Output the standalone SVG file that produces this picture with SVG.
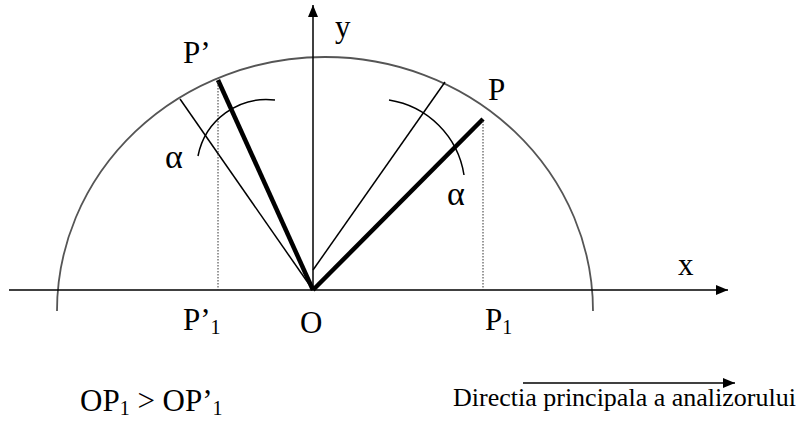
<svg xmlns="http://www.w3.org/2000/svg" width="801" height="424" viewBox="0 0 801 424">
<style>
text{font-family:"Liberation Serif","Times New Roman",serif;font-size:31px;fill:#000}
.sub{font-size:20px}
.alpha{font-size:34px}
.thin{stroke:#000;stroke-width:1.5;fill:none}
.thick{stroke:#000;stroke-width:4.5;fill:none}
.dot{stroke:#333;stroke-width:1;stroke-dasharray:1.5 1.5;fill:none}
.circ{stroke:#555;stroke-width:1.8;fill:none}
</style>
<defs>
<marker id="ah" viewBox="0 0 12 10" refX="12" refY="5" markerWidth="12" markerHeight="10" markerUnits="userSpaceOnUse" orient="auto">
<path d="M0,0 L12,5 L0,10 Z" fill="#000"/>
</marker>
</defs>
<rect width="801" height="424" fill="#fff"/>
<g id="circle">
<path class="circ" d="M57,311 A268,254 0 0 1 593,311"/>
</g>
<g id="connectors">
<line id="x-axis" class="thin" x1="9" y1="290" x2="728" y2="290" marker-end="url(#ah)"/>
<line id="y-axis" class="thin" x1="313" y1="290" x2="313" y2="5" marker-end="url(#ah)"/>
<line class="thin" x1="313" y1="290" x2="180" y2="99"/>
<line class="thick" x1="313" y1="290" x2="218" y2="80"/>
<line class="thin" x1="313" y1="270" x2="445" y2="82"/>
<line class="thick" x1="313" y1="290" x2="483" y2="119"/>
<line class="dot" x1="218" y1="82" x2="218" y2="290"/>
<line class="dot" x1="483" y1="121" x2="483" y2="290"/>
<path class="thin" d="M275,100 A70,70 0 0 0 198,156"/>
<path class="thin" d="M389,100 A90,90 0 0 1 464,175"/>
<line id="direction" class="thin" x1="523" y1="383" x2="735" y2="383" marker-end="url(#ah)"/>
</g>
<g id="labels">
<text x="335" y="37">y</text>
<text x="678" y="275">x</text>
<text x="183" y="63">P’</text>
<text x="488" y="100">P</text>
<text class="alpha" x="165" y="168">α</text>
<text class="alpha" x="447" y="205">α</text>
<text x="183" y="330">P’<tspan class="sub" dy="4">1</tspan></text>
<text x="300" y="333">O</text>
<text x="485" y="330">P<tspan class="sub" dy="4">1</tspan></text>
<text x="80" y="411">OP<tspan class="sub" dy="4">1</tspan><tspan dy="-4"> &gt; OP’</tspan><tspan class="sub" dy="4">1</tspan></text>
<text x="453" y="406" style="font-size:26px">Directia principala a analizorului</text>
</g>
</svg>
